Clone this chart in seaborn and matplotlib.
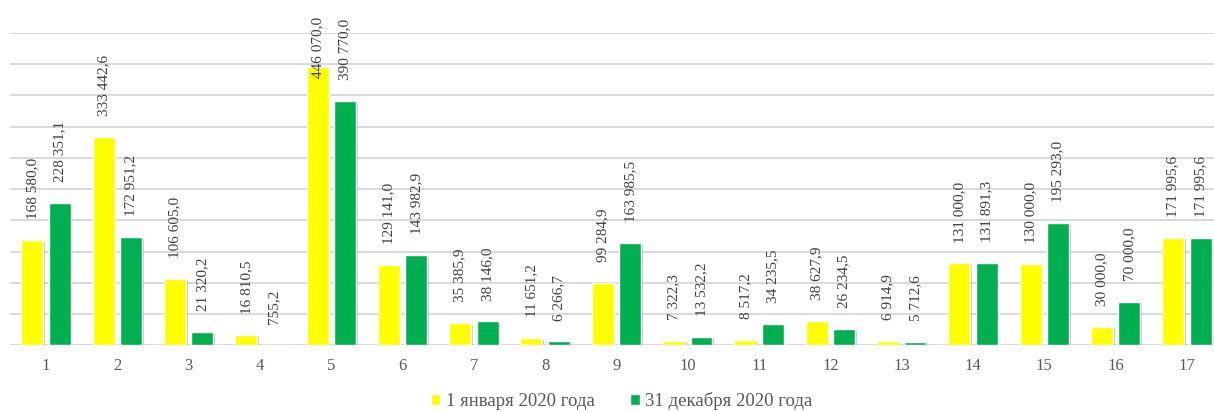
import pandas as pd
import numpy as np
import matplotlib
matplotlib.use('Agg')
import matplotlib.pyplot as plt
import matplotlib.patheffects as pe
import seaborn as sns

# data
categories = [str(i) for i in range(1, 18)]
series_names = ['1 января 2020 года', '31 декабря 2020 года']
jan_values = [168580.0, 333442.6, 106605.0, 16810.5, 446070.0, 129141.0, 35385.9,
              11651.2, 99284.9, 7322.3, 8517.2, 38627.9, 6914.9, 131000.0,
              130000.0, 30000.0, 171995.6]
dec_values = [228351.1, 172951.2, 21320.2, 755.2, 390770.0, 143982.9, 38146.0,
              6266.7, 163985.5, 13532.2, 34235.5, 26234.5, 5712.6, 131891.3,
              195293.0, 70000.0, 171995.6]

colors = {series_names[0]: '#FFFF00', series_names[1]: '#00B050'}
ymax = 500000
label_cap = 0.79 * ymax  # labels pushed down to fit in the chart area


def fmt_ru(v):
    return f'{v:,.1f}'.replace(',', ' ').replace('.', ',')


df = pd.DataFrame({
    'cat': categories * 2,
    'value': jan_values + dec_values,
    'series': [series_names[0]] * len(categories) + [series_names[1]] * len(categories),
})

sns.set_style('white')
plt.rcParams['font.family'] = ['Liberation Serif', 'DejaVu Serif']

fig = plt.figure(figsize=(12.14, 4.12), dpi=100)
ax = fig.add_axes([10.4 / 1214, 0.162, 1 - 10.4 / 1214, 0.758])

sns.barplot(data=df, x='cat', y='value', hue='series', hue_order=series_names,
            order=categories, palette=colors, width=0.77, gap=0.2,
            saturation=1, ax=ax, zorder=3)

shadow = [pe.SimplePatchShadow(offset=(1.2, -1.2), shadow_rgbFace='#000000', alpha=0.22),
          pe.Normal()]

for container, vals in zip(ax.containers, [jan_values, dec_values]):
    for bar, v in zip(container, vals):
        bar.set_path_effects(shadow)
        x = bar.get_x() + bar.get_width() / 2
        ax.annotate(fmt_ru(v), xy=(x, min(v, label_cap)), xytext=(0, 15),
                    textcoords='offset points', rotation=90, ha='center', va='bottom',
                    fontsize=11, color='#404040', annotation_clip=False)

ax.set_ylim(0, ymax)
ax.set_xlim(-0.5, 16.38)
ax.set_yticks(np.arange(0, ymax + 1, 50000))
ax.yaxis.grid(True, color='#D9D9D9', linewidth=1.4, zorder=0)
ax.set_axisbelow(True)
ax.set_yticklabels([])
ax.tick_params(axis='y', length=0)
ax.tick_params(axis='x', length=0, pad=9, labelsize=12, labelcolor='#595959')
ax.set_xlabel('')
ax.set_ylabel('')
for s in ax.spines.values():
    s.set_visible(False)

handles, labels = ax.get_legend_handles_labels()
ax.get_legend().remove()
fig.legend(handles, labels, loc='center', bbox_to_anchor=(0.512, 0.027), ncol=2,
           frameon=False, fontsize=13.5, handlelength=0.5, handleheight=0.5,
           handletextpad=0.3, columnspacing=1.9, labelcolor='#595959',
           borderpad=0.1)

fig.savefig('out.png', dpi=100)
